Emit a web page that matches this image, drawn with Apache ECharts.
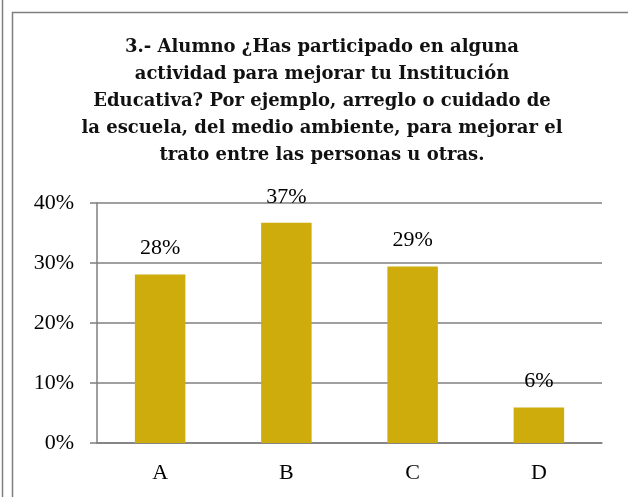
<!DOCTYPE html>
<html>
<head>
<meta charset="utf-8">
<script src="https://cdn.jsdelivr.net/npm/echarts@6/dist/echarts.min.js"></script>
<style>
  html, body { margin: 0; padding: 0; background: #fff; }
  #chart { width: 628px; height: 497px; }
</style>
</head>
<body>
<div id="chart"></div>
<script>
  // datos
  var categorias = ['A', 'B', 'C', 'D'];
  var valores = [28.1, 36.7, 29.4, 5.9];
  var etiquetas = ['28%', '37%', '29%', '6%'];
  var titulo = '3.- Alumno ¿Has participado en alguna\nactividad para mejorar tu Institución\nEducativa? Por ejemplo, arreglo o cuidado de\nla escuela, del medio ambiente, para mejorar el\ntrato entre las personas u otras.';

  var gris = '#7f7f7f';
  var fuente = 'Liberation Serif';

  var myChart = echarts.init(document.getElementById('chart'));
  var option = {
    animation: false,
    title: {
      text: titulo,
      left: 322,
      top: 34,
      padding: 0,
      textAlign: 'center',
      textStyle: {
        fontFamily: 'DejaVu Serif',
        fontWeight: 'bold',
        fontSize: 18,
        lineHeight: 27,
        color: '#111'
      }
    },
    graphic: [
      {type: 'line', shape: {x1: 2.5, y1: 0, x2: 2.5, y2: 497}, style: {stroke: gris, lineWidth: 1.5}},
      {type: 'rect', shape: {x: 12.5, y: 12.5, width: 640, height: 500}, style: {fill: null, stroke: gris, lineWidth: 1.5}}
    ],
    grid: {left: 97, top: 203, right: 26, bottom: 54},
    xAxis: {
      type: 'category',
      data: categorias,
      axisLine: {lineStyle: {color: gris, width: 1.5}},
      axisTick: {length: 7, lineStyle: {color: gris, width: 1.5}},
      axisLabel: {margin: 19, fontFamily: fuente, fontSize: 22, color: '#000'}
    },
    yAxis: {
      type: 'value',
      min: 0,
      max: 40,
      interval: 10,
      axisLine: {show: true, lineStyle: {color: gris, width: 1.5}},
      axisTick: {show: true, length: 7, lineStyle: {color: gris, width: 1.5}},
      splitLine: {lineStyle: {color: gris, width: 1.5}},
      axisLabel: {
        margin: 23,
        fontFamily: fuente,
        fontSize: 22,
        color: '#000',
        formatter: '{value}%'
      }
    },
    series: [
      {
        type: 'bar',
        data: valores,
        barCategoryGap: '60%',
        itemStyle: {color: '#cdac0b'},
        label: {
          show: true,
          position: 'top',
          distance: 15,
          fontFamily: fuente,
          fontSize: 22,
          color: '#000',
          formatter: function (p) {
            return etiquetas[p.dataIndex];
          }
        }
      }
    ]
  };
  myChart.setOption(option, true);
</script>
</body>
</html>
